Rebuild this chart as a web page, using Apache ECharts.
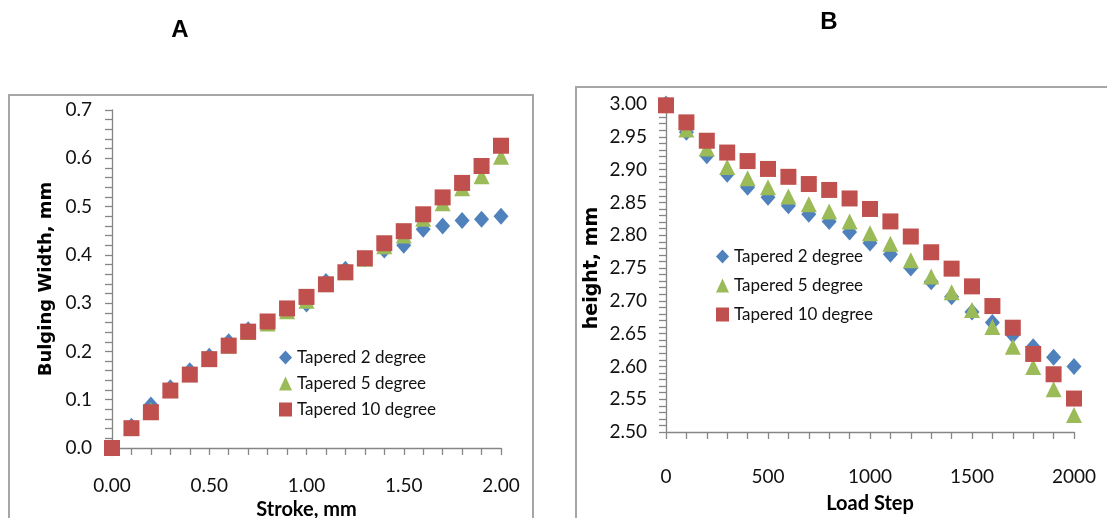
<!DOCTYPE html>
<html>
<head>
<meta charset="utf-8">
<script src="https://cdn.jsdelivr.net/npm/echarts@6/dist/echarts.min.js"></script>
<style>
html,body{margin:0;padding:0;background:#fff;}
#chart{width:1107px;height:518px;}
</style>
</head>
<body>
<div id="chart"></div>
<script>
// ---- Chart A: Bulging width vs stroke ----
const strokeA = [0.0,0.1,0.2,0.3,0.4,0.5,0.6,0.7,0.8,0.9,1.0,1.1,1.2,1.3,1.4,1.5,1.6,1.7,1.8,1.9,2.0];
const widthT2 = [0.0,0.045,0.089,0.125,0.160,0.190,0.220,0.245,0.260,0.285,0.298,0.345,0.370,0.392,0.410,0.420,0.453,0.460,0.471,0.474,0.480];
const widthT5 = [0.0,0.043,0.078,0.120,0.153,0.185,0.212,0.240,0.258,0.283,0.305,0.340,0.364,0.392,0.418,0.440,0.475,0.507,0.538,0.563,0.603];
const widthT10 = [0.0,0.041,0.074,0.119,0.152,0.184,0.212,0.241,0.262,0.289,0.313,0.339,0.364,0.393,0.424,0.449,0.484,0.519,0.549,0.584,0.626];

// ---- Chart B: height vs load step ----
const loadStep = [0,100,200,300,400,500,600,700,800,900,1000,1100,1200,1300,1400,1500,1600,1700,1800,1900,2000];
const heightT2 = [3.000,2.957,2.921,2.893,2.873,2.858,2.845,2.832,2.821,2.805,2.788,2.771,2.750,2.729,2.706,2.683,2.667,2.648,2.630,2.614,2.600];
const heightT5 = [3.000,2.961,2.932,2.904,2.887,2.873,2.859,2.847,2.836,2.821,2.803,2.787,2.762,2.737,2.713,2.686,2.660,2.630,2.599,2.565,2.526];
const heightT10 = [2.998,2.972,2.944,2.926,2.913,2.901,2.889,2.878,2.869,2.856,2.840,2.821,2.798,2.774,2.749,2.722,2.692,2.659,2.619,2.588,2.551];

const seriesNames = ['Tapered 2 degree','Tapered 5 degree','Tapered 10 degree'];
const seriesColors = ['#4F81BD','#9BBB59','#C0504D'];
const seriesSymbols = ['diamond','triangle','rect'];
const panelLabels = ['A','B'];

const FONT = 'Lato';
const axisGray = '#868686';

function pairs(xs, ys){ return xs.map((x,i)=>[x, ys[i]]); }

const chart = echarts.init(document.getElementById('chart'));

function tickCfg(){
  return {
    axisLine:{show:true, onZero:false, lineStyle:{color:axisGray, width:1.3}},
    axisTick:{show:true, inside:false, length:7, lineStyle:{color:axisGray, width:1.3}},
    minorTick:{show:true, splitNumber:5, length:7, lineStyle:{color:axisGray, width:1.3}},
    splitLine:{show:false}, minorSplitLine:{show:false}
  };
}
function xAxisCfg(gridIndex, min, max, interval, name, fmt, margin, nameGap){
  return Object.assign({
    type:'value', gridIndex, min, max, interval,
    name, nameLocation:'middle', nameGap,
    nameTextStyle:{fontFamily:FONT, fontWeight:'bold', fontSize:20, color:'#000'},
    axisLabel:{fontFamily:FONT, fontSize:19, color:'#111', margin, formatter:fmt}
  }, tickCfg());
}
function yAxisCfg(gridIndex, min, max, interval, name, fmt, margin, nameGap, nameSize){
  return Object.assign({
    type:'value', gridIndex, min, max, interval,
    name, nameLocation:'middle', nameGap, nameRotate:90,
    nameTextStyle:{fontFamily:'DejaVu Sans', fontWeight:'bold', fontSize:nameSize, color:'#000'},
    axisLabel:{fontFamily:FONT, fontSize:19, color:'#111', margin, formatter:fmt}
  }, tickCfg());
}

const dataA = [widthT2, widthT5, widthT10];
const dataB = [heightT2, heightT5, heightT10];
const sizes = [[15,17],[16,16],16];
const series = [];
for (let i=0;i<3;i++){
  series.push({
    type:'scatter', name:seriesNames[i], xAxisIndex:0, yAxisIndex:0,
    symbol:seriesSymbols[i], symbolSize:sizes[i],
    itemStyle:{color:seriesColors[i], opacity:1},
    data:pairs(strokeA, dataA[i]), z:2+i
  });
}
for (let i=0;i<3;i++){
  series.push({
    type:'scatter', name:seriesNames[i], xAxisIndex:1, yAxisIndex:1,
    symbol:seriesSymbols[i], symbolSize:sizes[i],
    itemStyle:{color:seriesColors[i], opacity:1},
    data:pairs(loadStep, dataB[i]), z:2+i
  });
}

function legendCfg(left, top, gap){
  return {
    orient:'vertical', left, top, itemGap:gap, itemWidth:13, itemHeight:14, padding:0,
    itemStyle:{borderWidth:0, opacity:1},
    selectedMode:false,
    textStyle:{fontFamily:FONT, fontSize:17, color:'#111'},
    data:seriesNames.map((n,i)=>({name:n, icon:seriesSymbols[i]}))
  };
}

chart.setOption({
  animation:false,
  backgroundColor:'#fff',
  grid:[
    {left:112, top:110, width:389, height:338, outerBoundsMode:'none', containLabel:false},
    {left:666, top:104, width:408, height:328, outerBoundsMode:'none', containLabel:false}
  ],
  xAxis:[
    xAxisCfg(0, 0, 2, 0.5, 'Stroke, mm', v=>v.toFixed(2), 28, 48),
    xAxisCfg(1, 0, 2000, 500, 'Load Step', v=>String(v), 35, 62)
  ],
  yAxis:[
    yAxisCfg(0, 0, 0.7, 0.1, 'Bulging Width, mm', v=>v.toFixed(1), 20, 57, 18),
    yAxisCfg(1, 2.5, 3.0, 0.05, 'height, mm', v=>v.toFixed(2), 19, 64, 19)
  ],
  legend:[ legendCfg(279, 349, 9), legendCfg(716, 248, 12) ],
  graphic:[
    {type:'rect', shape:{x:9, y:95, width:524, height:450}, style:{fill:'none', stroke:'#a6a6a6', lineWidth:2}, z:-1},
    {type:'rect', shape:{x:576, y:87, width:560, height:460}, style:{fill:'none', stroke:'#a6a6a6', lineWidth:2}, z:-1},
    {type:'text', x:180, y:30, style:{text:panelLabels[0], font:'bold 24px "Liberation Sans"', fill:'#000', textAlign:'center', textVerticalAlign:'middle'}},
    {type:'text', x:829, y:22, style:{text:panelLabels[1], font:'bold 24px "Liberation Sans"', fill:'#000', textAlign:'center', textVerticalAlign:'middle'}}
  ],
  series
});
</script>
</body>
</html>
